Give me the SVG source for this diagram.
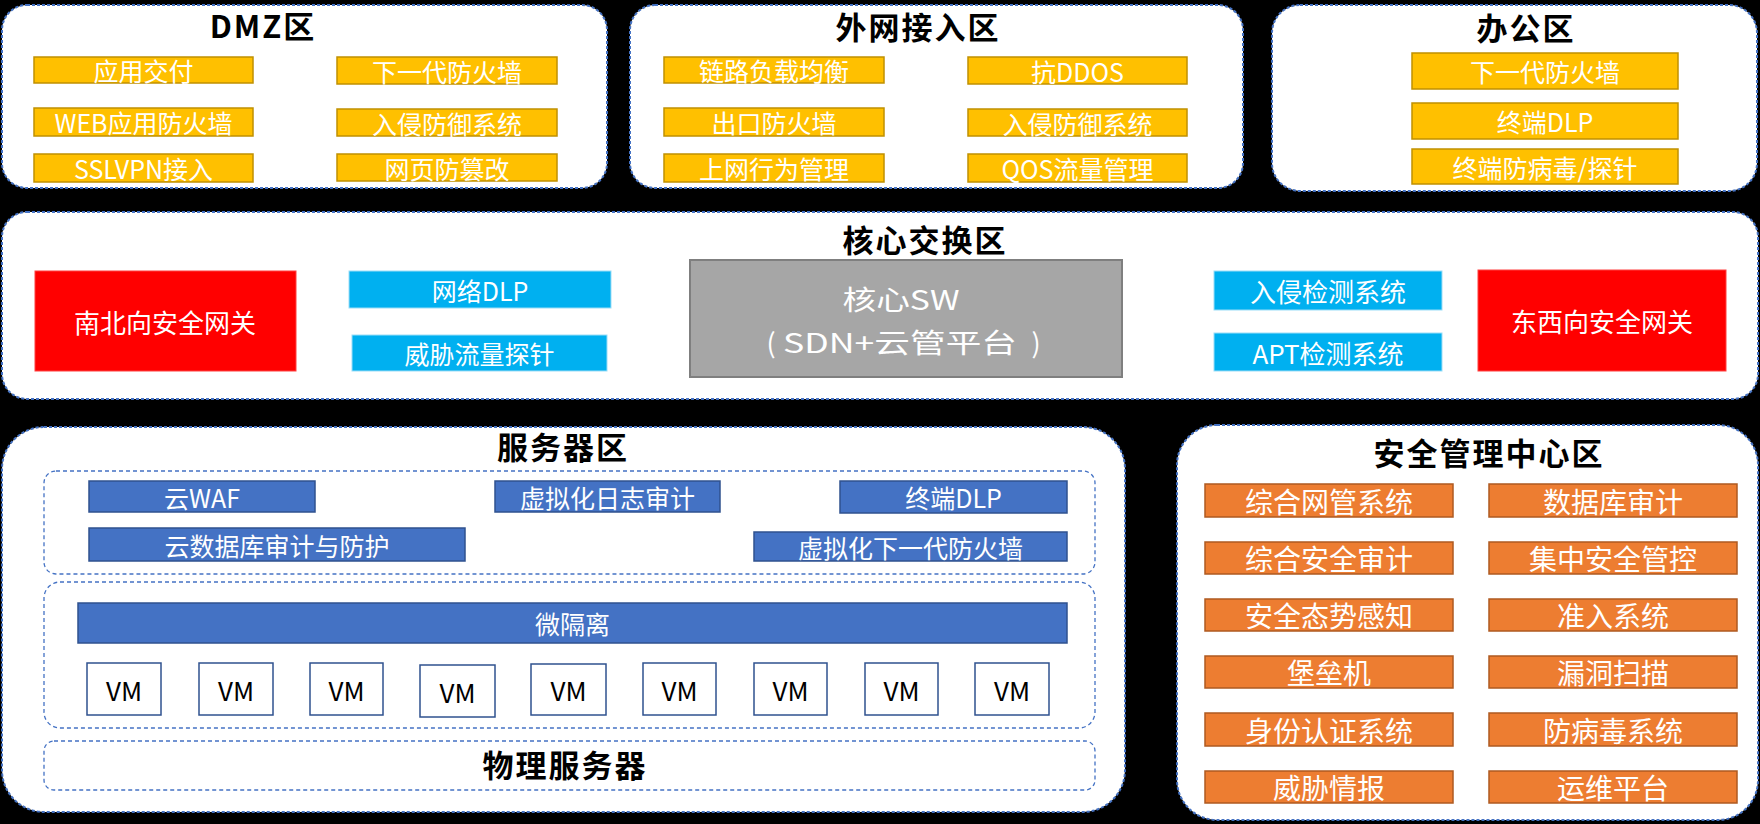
<svg xmlns="http://www.w3.org/2000/svg" width="1760" height="824" viewBox="0 0 1760 824">
<style>
.panel{fill:#fff;stroke:#4472C4;stroke-width:2;stroke-dasharray:3 2}
.inner{fill:none;stroke:#4472C4;stroke-width:1.3;stroke-dasharray:4 3}
.title{font-family:"Noto Sans CJK SC","Microsoft YaHei",sans-serif;font-weight:bold;font-size:31px;letter-spacing:2px;fill:#000;text-anchor:middle}
.t{font-family:"Noto Sans CJK SC","Microsoft YaHei",sans-serif;fill:#fff;text-anchor:middle;dominant-baseline:central}
.k{fill:#000}
.y{fill:#FFC000;stroke:#C09000;stroke-width:1.5}
.o{fill:#ED7D31;stroke:#AE5A21;stroke-width:1.5}
.b{fill:#4472C4;stroke:#2F528F;stroke-width:1.5}
.c{fill:#00B0F0;stroke:#9BDDF7;stroke-width:1}
.r{fill:#FF0000;stroke:#FF4040;stroke-width:1}
.g{fill:#A6A6A6;stroke:#7F7F7F;stroke-width:2}
.vm{fill:#fff;stroke:#2F528F;stroke-width:1.5}
.f25{font-size:25px}
.f26{font-size:26px}
.f28{font-size:28px}
</style>
<rect width="1760" height="824" fill="#000"/>

<!-- DMZ -->
<g id="dmz">
<rect class="panel" x="2" y="5" width="605" height="183" rx="25"/>
<text class="title" x="263" y="38">DMZ区</text>
<rect class="y" x="34" y="57" width="219" height="26"/><text class="t f25" x="143.5" y="70">应用交付</text>
<rect class="y" x="337" y="57" width="220" height="27"/><text class="t f25" x="447" y="70.5">下一代防火墙</text>
<rect class="y" x="34" y="108" width="219" height="28"/><text class="t f25" x="143.5" y="122">WEB应用防火墙</text>
<rect class="y" x="337" y="109" width="220" height="27"/><text class="t f25" x="447" y="122.5">入侵防御系统</text>
<rect class="y" x="34" y="154" width="219" height="28"/><text class="t f25" x="143.5" y="168">SSLVPN接入</text>
<rect class="y" x="337" y="154" width="220" height="27"/><text class="t f25" x="447" y="167.5">网页防篡改</text>
</g>

<!-- 外网接入区 -->
<g id="wan">
<rect class="panel" x="630" y="5" width="613" height="183" rx="25"/>
<text class="title" x="918" y="39">外网接入区</text>
<rect class="y" x="664" y="57" width="220" height="26"/><text class="t f25" x="774" y="70">链路负载均衡</text>
<rect class="y" x="968" y="57" width="219" height="27"/><text class="t f25" x="1077.5" y="70.5">抗DDOS</text>
<rect class="y" x="664" y="108" width="220" height="28"/><text class="t f25" x="774" y="122">出口防火墙</text>
<rect class="y" x="968" y="109" width="219" height="27"/><text class="t f25" x="1077.5" y="122.5">入侵防御系统</text>
<rect class="y" x="664" y="154" width="220" height="28"/><text class="t f25" x="774" y="168">上网行为管理</text>
<rect class="y" x="968" y="154" width="219" height="28"/><text class="t f25" x="1077.5" y="168">QOS流量管理</text>
</g>

<!-- 办公区 -->
<g id="office">
<rect class="panel" x="1272" y="5" width="485" height="186" rx="28"/>
<text class="title" x="1526" y="40">办公区</text>
<rect class="y" x="1412" y="53" width="266" height="36"/><text class="t f25" x="1545" y="71">下一代防火墙</text>
<rect class="y" x="1412" y="103" width="266" height="36"/><text class="t f25" x="1545" y="121">终端DLP</text>
<rect class="y" x="1412" y="149" width="266" height="35"/><text class="t f25" x="1545" y="166.5">终端防病毒/探针</text>
</g>

<!-- 核心交换区 -->
<g id="core">
<rect class="panel" x="2" y="212" width="1756" height="187" rx="25"/>
<text class="title" x="925" y="252">核心交换区</text>
<rect class="r" x="35" y="271" width="261" height="100"/><text class="t f26" x="165" y="321">南北向安全网关</text>
<rect class="c" x="349" y="271" width="262" height="37"/><text class="t f25" x="480" y="289.5">网络DLP</text>
<rect class="c" x="352" y="335" width="255" height="36"/><text class="t f25" x="479.5" y="353">威胁流量探针</text>
<rect class="g" x="690" y="260" width="432" height="117"/>
<text class="t" x="901" y="298" font-size="27" textLength="117" lengthAdjust="spacingAndGlyphs">核心SW</text>
<text class="t" y="341" font-size="27"><tspan x="771">(</tspan><tspan x="900" textLength="234" lengthAdjust="spacingAndGlyphs">SDN+云管平台</tspan><tspan x="1036">)</tspan></text>
<rect class="c" x="1214" y="271" width="228" height="39"/><text class="t f26" x="1328" y="290.5">入侵检测系统</text>
<rect class="c" x="1214" y="333" width="228" height="38"/><text class="t f26" x="1328" y="352">APT检测系统</text>
<rect class="r" x="1478" y="270" width="248" height="101"/><text class="t f26" x="1602" y="320.5">东西向安全网关</text>
</g>

<!-- 服务器区 -->
<g id="server">
<rect class="panel" x="2" y="427" width="1123" height="385" rx="42"/>
<text class="title" x="563" y="459">服务器区</text>
<rect class="inner" x="44" y="471" width="1051" height="103" rx="12"/>
<rect class="b" x="89" y="481" width="226" height="31"/><text class="t f25" x="202" y="496.5">云WAF</text>
<rect class="b" x="495" y="481" width="225" height="31"/><text class="t f25" x="607.5" y="496.5">虚拟化日志审计</text>
<rect class="b" x="840" y="481" width="227" height="32"/><text class="t f25" x="953.5" y="497">终端DLP</text>
<rect class="b" x="89" y="528" width="376" height="33"/><text class="t f25" x="277" y="544.5">云数据库审计与防护</text>
<rect class="b" x="754" y="532" width="313" height="29"/><text class="t f25" x="910.5" y="546.5">虚拟化下一代防火墙</text>
<rect class="inner" x="44" y="582" width="1051" height="146" rx="16"/>
<rect class="b" x="78" y="603" width="989" height="40"/><text class="t f25" x="572.5" y="623">微隔离</text>
<g id="vms">
<rect class="vm" x="87" y="663" width="74" height="52"/><text class="t f26 k" x="124" y="689">VM</text>
<rect class="vm" x="199" y="663" width="74" height="52"/><text class="t f26 k" x="236" y="689">VM</text>
<rect class="vm" x="310" y="663" width="73" height="52"/><text class="t f26 k" x="346.5" y="689">VM</text>
<rect class="vm" x="420" y="665" width="75" height="52"/><text class="t f26 k" x="457.5" y="691">VM</text>
<rect class="vm" x="531" y="664" width="75" height="51"/><text class="t f26 k" x="568.5" y="689.5">VM</text>
<rect class="vm" x="643" y="663" width="73" height="52"/><text class="t f26 k" x="679.5" y="689">VM</text>
<rect class="vm" x="754" y="663" width="73" height="52"/><text class="t f26 k" x="790.5" y="689">VM</text>
<rect class="vm" x="865" y="663" width="73" height="52"/><text class="t f26 k" x="901.5" y="689">VM</text>
<rect class="vm" x="975" y="663" width="74" height="52"/><text class="t f26 k" x="1012" y="689">VM</text>
</g>
<rect class="inner" x="44" y="741" width="1051" height="49" rx="10"/>
<text class="title" x="565" y="777">物理服务器</text>
</g>

<!-- 安全管理中心区 -->
<g id="soc">
<rect class="panel" x="1177" y="425" width="581" height="395" rx="40"/>
<text class="title" x="1489" y="465">安全管理中心区</text>
<rect class="o" x="1205" y="484" width="248" height="33"/><text class="t f28" x="1329" y="500.5">综合网管系统</text>
<rect class="o" x="1489" y="484" width="248" height="33"/><text class="t f28" x="1613" y="500.5">数据库审计</text>
<rect class="o" x="1205" y="542" width="248" height="32"/><text class="t f28" x="1329" y="558">综合安全审计</text>
<rect class="o" x="1489" y="542" width="248" height="32"/><text class="t f28" x="1613" y="558">集中安全管控</text>
<rect class="o" x="1205" y="599" width="248" height="32"/><text class="t f28" x="1329" y="615">安全态势感知</text>
<rect class="o" x="1489" y="599" width="248" height="32"/><text class="t f28" x="1613" y="615">准入系统</text>
<rect class="o" x="1205" y="656" width="248" height="32"/><text class="t f28" x="1329" y="672">堡垒机</text>
<rect class="o" x="1489" y="656" width="248" height="32"/><text class="t f28" x="1613" y="672">漏洞扫描</text>
<rect class="o" x="1205" y="713" width="248" height="33"/><text class="t f28" x="1329" y="729.5">身份认证系统</text>
<rect class="o" x="1489" y="713" width="248" height="33"/><text class="t f28" x="1613" y="729.5">防病毒系统</text>
<rect class="o" x="1205" y="771" width="248" height="32"/><text class="t f28" x="1329" y="787">威胁情报</text>
<rect class="o" x="1489" y="771" width="248" height="32"/><text class="t f28" x="1613" y="787">运维平台</text>
</g>

<g id="connectors"></g>
</svg>
